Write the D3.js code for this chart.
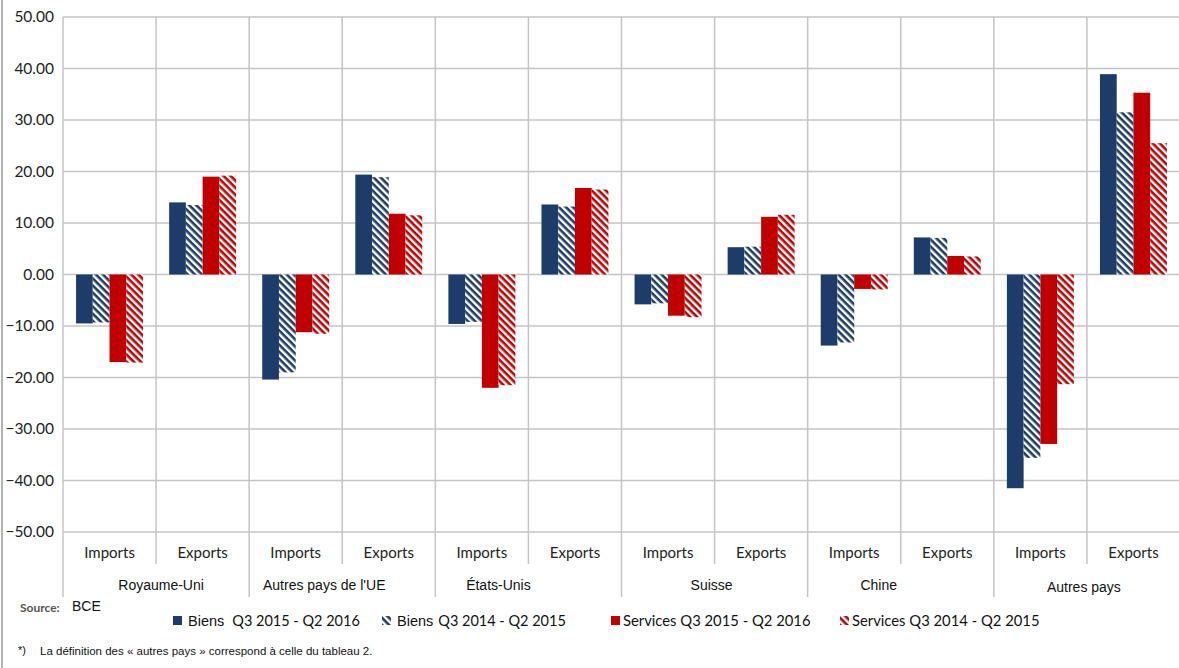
<!DOCTYPE html>
<html>
<head>
<meta charset="utf-8">
<script src="https://cdn.jsdelivr.net/npm/d3@7"></script>
<style>
  body { margin: 0; background: #fff; }
  svg { display: block; }
</style>
</head>
<body>
<div id="chart"></div>
<script>
const [width, height] = [1179, 668];

// data
const groups = ["Royaume-Uni", "Autres pays de l'UE", "États-Unis", "Suisse", "Chine", "Autres pays"];
const flows = ["Imports", "Exports"];
const seriesNames = ["Biens Q3 2015 - Q2 2016", "Biens Q3 2014 - Q2 2015", "Services Q3 2015 - Q2 2016", "Services Q3 2014 - Q2 2015"];
// one array per series, in order group x flow (Imports, Exports)
const biens2016 = [-9.5, 14.0, -20.4, 19.4, -9.6, 13.6, -5.8, 5.3, -13.8, 7.2, -41.5, 38.9];
const biens2015 = [-9.3, 13.5, -19.0, 18.9, -9.2, 13.2, -5.6, 5.4, -13.2, 7.1, -35.6, 31.5];
const services2016 = [-17.0, 19.0, -11.2, 11.8, -22.0, 16.8, -8.0, 11.2, -2.8, 3.6, -32.9, 35.3];
const services2015 = [-17.1, 19.2, -11.5, 11.5, -21.5, 16.5, -8.3, 11.6, -2.9, 3.5, -21.3, 25.5];
const yTicks = [50, 40, 30, 20, 10, 0, -10, -20, -30, -40, -50];

// layout tweaks for the group labels (they are not centred in the original)
const groupLabelDx = [5, -18, -30, -3, -22, -3];

const margin = {top: 17, left: 63, right: 0, bottom: 136};
const plotW = 1180 - margin.left;
const plotH = 532 - margin.top;

const svg = d3.select("#chart").append("svg")
  .attr("width", width).attr("height", height);

const defs = svg.append("defs");
function hatch(id, color) {
  const p = defs.append("pattern")
    .attr("id", id)
    .attr("patternUnits", "userSpaceOnUse")
    .attr("width", 5).attr("height", 5)
    .attr("patternTransform", "rotate(45)");
  p.append("rect").attr("width", 5).attr("height", 5).attr("fill", "#fff");
  p.append("rect").attr("width", 5).attr("height", 2.6).attr("fill", color);
}
const blue = "#1d3c6a", red = "#c00000";
hatch("hb", blue);
hatch("hr", red);
const fills = [blue, "url(#hb)", red, "url(#hr)"];

const cats = [];
groups.forEach(g => flows.forEach(f => cats.push(g + "|" + f)));

const x = d3.scaleBand().domain(cats).range([margin.left, margin.left + plotW]);
const xs = d3.scaleBand().domain(d3.range(4)).range([0, x.bandwidth()]).paddingOuter(0.78).paddingInner(0);
const y = d3.scaleLinear().domain([-50, 50]).range([margin.top + plotH, margin.top]);

const grid = "#c4c4c4";

// frame line on the left
svg.append("line").attr("x1", 2).attr("x2", 2).attr("y1", 0).attr("y2", height)
  .attr("stroke", "#9a9a9a").attr("stroke-width", 1.5);

// horizontal gridlines
svg.append("g").selectAll("line").data(yTicks).join("line")
  .attr("x1", margin.left).attr("x2", margin.left + plotW)
  .attr("y1", d => y(d)).attr("y2", d => y(d))
  .attr("stroke", grid).attr("stroke-width", 1.5);

// y axis labels
svg.append("g").selectAll("text").data(yTicks).join("text")
  .attr("x", 54).attr("y", d => y(d))
  .attr("dy", "0.35em")
  .attr("text-anchor", "end")
  .attr("font-family", "Lato, sans-serif")
  .attr("font-size", 15.5)
  .attr("fill", "#222")
  .text(d => d3.format(".2f")(d));

// vertical separators
const bounds = d3.range(cats.length + 1);
svg.append("g").selectAll("line").data(bounds).join("line")
  .attr("x1", i => margin.left + i * x.step())
  .attr("x2", i => margin.left + i * x.step())
  .attr("y1", margin.top)
  .attr("y2", i => i % 2 === 0 ? 597 : 564)
  .attr("stroke", grid).attr("stroke-width", 1.5);

// bars
const series = [biens2016, biens2015, services2016, services2015];
series.forEach((vals, s) => {
  svg.append("g").selectAll("rect").data(vals).join("rect")
    .attr("x", (d, i) => x(cats[i]) + xs(s))
    .attr("width", xs.bandwidth())
    .attr("y", d => y(Math.max(0, d)))
    .attr("height", d => Math.abs(y(d) - y(0)))
    .attr("fill", fills[s]);
});

// sub category labels
svg.append("g").selectAll("text").data(cats).join("text")
  .attr("x", d => x(d) + x.bandwidth() / 2)
  .attr("y", 558)
  .attr("text-anchor", "middle")
  .attr("font-family", "Lato, sans-serif")
  .attr("font-size", 15)
  .attr("fill", "#222")
  .text(d => d.split("|")[1]);

// group labels
svg.append("g").selectAll("text").data(groups).join("text")
  .attr("x", (d, i) => margin.left + (2 * i + 1) * x.step() + groupLabelDx[i])
  .attr("y", (d, i) => i === 5 ? 592 : 590)
  .attr("text-anchor", "middle")
  .attr("font-family", "Liberation Sans, Arial, sans-serif")
  .attr("font-size", 14)
  .attr("fill", "#111")
  .text(d => d);

// source
svg.append("text").attr("x", 20).attr("y", 612)
  .attr("font-family", "Lato, sans-serif").attr("font-size", 12).attr("font-weight", "bold")
  .attr("fill", "#555").text("Source:");
svg.append("text").attr("x", 72).attr("y", 611)
  .attr("font-family", "Liberation Sans, Arial, sans-serif").attr("font-size", 14)
  .attr("fill", "#111").text("BCE");

// legend
const legendX = [173, 382, 611, 840];
const leg = svg.append("g").selectAll("g").data(seriesNames).join("g")
  .attr("transform", (d, i) => `translate(${legendX[i]}, 616)`);
leg.append("rect").attr("width", 9).attr("height", 9)
  .attr("fill", (d, i) => fills[i]);
leg.each(function(d, i) {
  const parts = d.split(" ");
  const head = parts[0];
  const rest = parts.slice(1).join(" ");
  const t = d3.select(this).append("text")
    .attr("x", i >= 2 ? 12 : 15).attr("y", 10)
    .attr("fill", "#111");
  if (i < 2) {
    t.append("tspan").attr("font-family", "Liberation Sans, Arial, sans-serif")
      .attr("font-size", 14.5).text(head);
    t.append("tspan").attr("font-family", "Lato, sans-serif")
      .attr("font-size", 14.5).attr("dx", i === 0 ? 8 : 5).text(rest);
  } else {
    t.attr("font-family", "Lato, sans-serif").attr("font-size", 14.8).text(d);
  }
});

// footnote
svg.append("text").attr("x", 18).attr("y", 654)
  .attr("font-family", "Liberation Sans, Arial, sans-serif").attr("font-size", 11)
  .attr("fill", "#111").text("*)");
svg.append("text").attr("x", 40).attr("y", 655)
  .attr("font-family", "Liberation Sans, Arial, sans-serif").attr("font-size", 11.5)
  .attr("fill", "#111").text("La définition des « autres pays » correspond à celle du tableau 2.");
</script>
</body>
</html>
